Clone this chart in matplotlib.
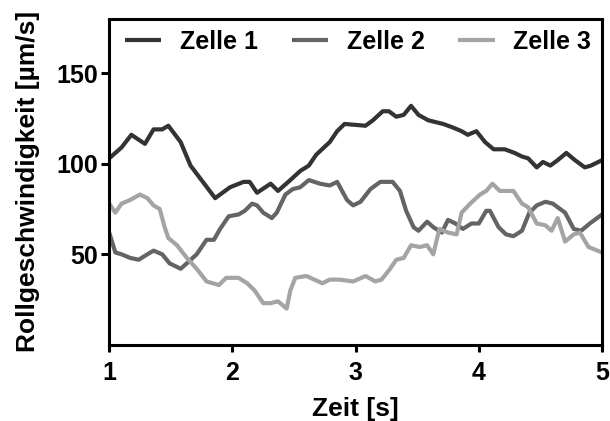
import matplotlib
matplotlib.use("Agg")
import matplotlib.pyplot as plt

plt.rcParams['font.family'] = ['Liberation Sans', 'DejaVu Sans']
plt.rcParams['font.weight'] = 'bold'

# Rollgeschwindigkeit von drei Zellen über die Zeit
t1 = [1.00, 1.10, 1.18, 1.29, 1.36, 1.43, 1.48, 1.58, 1.66, 1.76, 1.86, 1.98,
      2.09, 2.14, 2.20, 2.31, 2.37, 2.47, 2.55, 2.62, 2.68, 2.79, 2.85, 2.91,
      3.08, 3.14, 3.22, 3.27, 3.33, 3.39, 3.45, 3.51, 3.59, 3.71, 3.79, 3.86,
      3.91, 3.98, 4.05, 4.12, 4.21, 4.29, 4.35, 4.40, 4.47, 4.52, 4.58, 4.64,
      4.71, 4.78, 4.86, 4.91, 5.00]
v1 = [103, 109, 116, 111, 119, 119, 121, 112, 99, 90, 81, 87,
      90, 90, 84, 89, 85, 91, 96, 99, 105, 112, 118, 122,
      121, 124, 129, 129, 126, 127, 132, 127, 124, 122, 120, 118,
      116, 118, 112, 108, 108, 106, 104, 103, 98, 101, 99, 102,
      106, 102, 98, 99, 102]

t2 = [1.00, 1.05, 1.10, 1.17, 1.24, 1.31, 1.36, 1.43, 1.49, 1.58, 1.63, 1.71,
      1.79, 1.85, 1.90, 1.97, 2.05, 2.10, 2.16, 2.20, 2.25, 2.32, 2.36, 2.43,
      2.49, 2.55, 2.62, 2.71, 2.79, 2.85, 2.93, 2.98, 3.04, 3.12, 3.20, 3.30,
      3.36, 3.41, 3.47, 3.51, 3.58, 3.63, 3.70, 3.75, 3.81, 3.87, 3.94, 4.00,
      4.06, 4.09, 4.16, 4.22, 4.28, 4.35, 4.41, 4.47, 4.54, 4.60, 4.70, 4.77,
      4.83, 4.90, 5.00]
v2 = [62, 51, 50, 48, 47, 50, 52, 50, 45, 42, 45, 50,
      58, 58, 64, 71, 72, 74, 78, 77, 73, 70, 73, 83,
      86, 87, 91, 89, 88, 90, 80, 77, 79, 86, 90, 90,
      85, 74, 65, 63, 68, 65, 62, 69, 67, 64, 67, 67,
      74, 74, 65, 61, 60, 63, 73, 77, 79, 78, 73, 64,
      63, 67, 72]

t3 = [1.00, 1.05, 1.10, 1.17, 1.25, 1.31, 1.36, 1.41, 1.45, 1.48, 1.55, 1.63,
      1.71, 1.79, 1.89, 1.95, 2.05, 2.12, 2.18, 2.25, 2.31, 2.37, 2.44, 2.47,
      2.51, 2.60, 2.73, 2.79, 2.87, 2.98, 3.08, 3.16, 3.21, 3.28, 3.33, 3.39,
      3.45, 3.52, 3.58, 3.63, 3.68, 3.75, 3.82, 3.86, 3.93, 4.01, 4.06, 4.11,
      4.17, 4.28, 4.35, 4.40, 4.47, 4.54, 4.59, 4.64, 4.70, 4.77, 4.82, 4.89,
      5.00]
v3 = [78, 73, 78, 80, 83, 81, 77, 75, 65, 59, 55, 48,
      42, 35, 33, 37, 37, 34, 30, 23, 23, 24, 20, 30,
      37, 38, 34, 36, 36, 35, 38, 35, 36, 42, 47, 48,
      55, 54, 55, 50, 64, 62, 61, 73, 78, 83, 85, 89,
      85, 85, 78, 76, 67, 66, 63, 70, 57, 61, 62, 54,
      51]

names = ['Zelle 1', 'Zelle 2', 'Zelle 3']
colors = ['#333333', '#646464', '#a4a4a4']
xticks = [1, 2, 3, 4, 5]
yticks = [50, 100, 150]

fig = plt.figure(figsize=(6.1, 4.21), dpi=100)
ax = fig.add_axes([0.179, 0.181, 0.808, 0.774])

for t, v, name, c in zip([t1, t2, t3], [v1, v2, v3], names, colors):
    ax.plot(t, v, color=c, lw=3, label=name, solid_capstyle='butt')

ax.set_xlim(1, 5)
ax.set_ylim(0, 180)
ax.set_xticks(xticks)
ax.set_yticks(yticks)
for s in ax.spines.values():
    s.set_linewidth(2.2)
ax.tick_params(axis='both', labelsize=18, width=2.2, direction='out')
ax.tick_params(axis='y', length=6, pad=2)
ax.tick_params(axis='x', length=5, pad=7)
ax.set_xlabel('Zeit [s]', fontsize=19, fontweight='bold', labelpad=8)
ax.set_ylabel('Rollgeschwindigkeit [µm/s]', fontsize=19, fontweight='bold', labelpad=12)

ax.legend(loc='center', bbox_to_anchor=(0.505, 0.929), ncol=3, frameon=False,
          fontsize=18, handlelength=1.45, handletextpad=0.75, columnspacing=1.35,
          borderaxespad=0)

fig.savefig('out.png', dpi=100)
